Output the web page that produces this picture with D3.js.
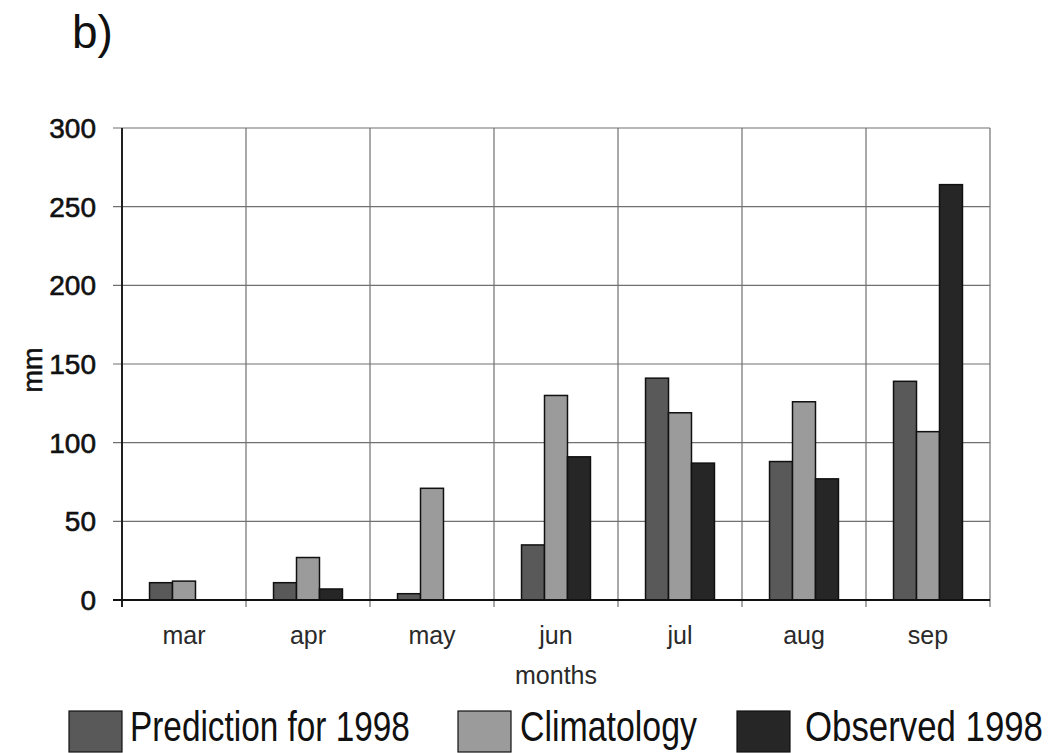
<!DOCTYPE html>
<html>
<head>
<meta charset="utf-8">
<script src="https://cdn.jsdelivr.net/npm/d3@7"></script>
<style>
  body { margin: 0; background: #fff; }
  svg { display: block; font-family: "Liberation Sans", Arial, sans-serif; }
</style>
</head>
<body>
<svg id="chart" width="1050" height="753"></svg>
<script>
// data (mm)
var months = ["mar", "apr", "may", "jun", "jul", "aug", "sep"];
var series = ["Prediction for 1998", "Climatology", "Observed 1998"];
var prediction = [11, 11, 4, 35, 141, 88, 139];
var climatology = [12, 27, 71, 130, 119, 126, 107];
var observed = [0, 7, 0, 91, 87, 77, 264];
var yTicks = [0, 50, 100, 150, 200, 250, 300];

var colors = ["#595959", "#9b9b9b", "#262626"];
var values = [prediction, climatology, observed];

var svg = d3.select("#chart");

// plot box (window.top is taken, so own names)
var pLeft = 122, pRight = 990, pTop = 128, pBottom = 600;

var x = d3.scaleBand().domain(months).range([pLeft, pRight]).padding(0);
var xs = d3.scaleBand().domain(series)
  .range([x.bandwidth() * 0.222, x.bandwidth() * 0.778]).padding(0);
var y = d3.scaleLinear().domain([0, 300]).range([pBottom, pTop]);

// horizontal gridlines
svg.append("g")
  .selectAll("line")
  .data(yTicks)
  .enter().append("line")
  .attr("x1", pLeft - 9).attr("x2", pRight)
  .attr("y1", function(d){ return y(d) })
  .attr("y2", function(d){ return y(d) })
  .attr("stroke", "#707070").attr("stroke-width", 1.2);

// vertical gridlines at the month boundaries
var edges = months.map(function(m){ return x(m) }).concat([pRight]);
svg.append("g")
  .selectAll("line")
  .data(edges)
  .enter().append("line")
  .attr("x1", function(d){ return d }).attr("x2", function(d){ return d })
  .attr("y1", pTop).attr("y2", pBottom + 7)
  .attr("stroke", "#707070").attr("stroke-width", 1.2);

// bars
months.forEach(function(m, i) {
  series.forEach(function(s, j) {
    var v = values[j][i];
    if (!v) return;
    svg.append("rect")
      .attr("x", x(m) + xs(s))
      .attr("y", y(v))
      .attr("width", xs.bandwidth())
      .attr("height", y(0) - y(v))
      .attr("fill", colors[j])
      .attr("stroke", "#111")
      .attr("stroke-width", 1.5);
  });
});

// axes lines
svg.append("line")
  .attr("x1", pLeft).attr("x2", pLeft).attr("y1", pTop).attr("y2", pBottom + 7)
  .attr("stroke", "#111").attr("stroke-width", 1.8);
svg.append("line")
  .attr("x1", pLeft - 9).attr("x2", pRight).attr("y1", pBottom).attr("y2", pBottom)
  .attr("stroke", "#111").attr("stroke-width", 1.8);

// y tick labels
svg.append("g")
  .selectAll("text")
  .data(yTicks)
  .enter().append("text")
  .attr("x", 96)
  .attr("y", function(d){ return y(d) + 10 })
  .attr("text-anchor", "end")
  .attr("font-size", 28)
  .attr("fill", "#111")
  .attr("stroke", "#111").attr("stroke-width", 0.6)
  .text(function(d){ return d });

// month labels
svg.append("g")
  .selectAll("text")
  .data(months)
  .enter().append("text")
  .attr("x", function(d){ return x(d) + x.bandwidth() / 2 })
  .attr("y", 644)
  .attr("text-anchor", "middle")
  .attr("font-size", 25)
  .attr("fill", "#2a2a2a")
  .text(function(d){ return d });

svg.append("text")
  .attr("x", (pLeft + pRight) / 2).attr("y", 684)
  .attr("text-anchor", "middle")
  .attr("font-size", 25).attr("fill", "#2a2a2a")
  .text("months");

svg.append("text")
  .attr("transform", "translate(42,370) rotate(-90)")
  .attr("text-anchor", "middle")
  .attr("font-size", 27).attr("fill", "#111")
  .attr("stroke", "#111").attr("stroke-width", 0.5)
  .text("mm");

svg.append("text")
  .attr("x", 72).attr("y", 48)
  .attr("font-size", 46).attr("fill", "#111")
  .text("b)");

// legend (narrow lettering: squeeze each label to its width)
var legend = [
  { box: 69, tx: 130, tw: 280 },
  { box: 458, tx: 520, tw: 177 },
  { box: 737, tx: 805, tw: 238 }
];
series.forEach(function(s, j) {
  svg.append("rect")
    .attr("x", legend[j].box).attr("y", 711)
    .attr("width", 53).attr("height", 41)
    .attr("fill", colors[j])
    .attr("stroke", "#111").attr("stroke-width", 1.2);
  var t = svg.append("text")
    .attr("font-size", 42).attr("fill", "#111")
    .text(s);
  var w = t.node().getComputedTextLength();
  t.attr("transform", "translate(" + legend[j].tx + ",741) scale(" + (legend[j].tw / w) + ",1)");
});
</script>
</body>
</html>
